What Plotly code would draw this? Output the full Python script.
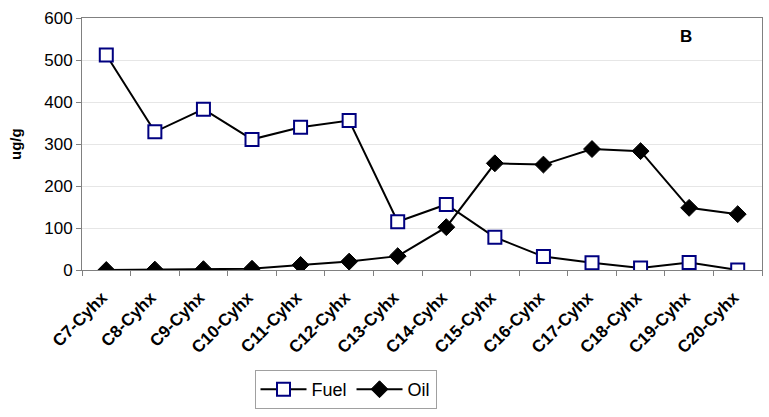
import plotly.graph_objects as go

categories = ["C7-Cyhx", "C8-Cyhx", "C9-Cyhx", "C10-Cyhx", "C11-Cyhx", "C12-Cyhx", "C13-Cyhx",
              "C14-Cyhx", "C15-Cyhx", "C16-Cyhx", "C17-Cyhx", "C18-Cyhx", "C19-Cyhx", "C20-Cyhx"]
fuel = [512, 329, 383, 311, 340, 356, 115, 156, 78, 32, 17, 5, 18, 0]
oil = [0, 1, 2, 3, 12, 20, 33, 102, 254, 251, 288, 283, 148, 133]
y_ticks = [0, 100, 200, 300, 400, 500, 600]

fig = go.Figure()
fig.add_trace(go.Scatter(
    x=categories, y=fuel, name="Fuel", mode="lines+markers",
    line=dict(color="black", width=2),
    marker=dict(symbol="square", size=13, color="white", line=dict(color="#000080", width=2)),
))
fig.add_trace(go.Scatter(
    x=categories, y=oil, name="Oil", mode="lines+markers",
    line=dict(color="black", width=2),
    marker=dict(symbol="diamond", size=13, color="black", line=dict(color="black", width=1)),
))

fig.update_layout(
    width=769, height=417,
    margin=dict(l=82, r=7, t=18, b=147, autoexpand=False),
    paper_bgcolor="white", plot_bgcolor="white",
    font=dict(family="Arial, Liberation Sans, sans-serif", color="black"),
    showlegend=True,
    legend=dict(
        orientation="h", x=0.3875, xanchor="center", y=-0.397, yanchor="top",
        bordercolor="#a0a0a0", borderwidth=1, font=dict(size=18),
        itemwidth=46, tracegroupgap=0,
    ),
    xaxis=dict(
        type="category", range=[-0.5, len(categories) - 0.5],
        tickangle=-45, tickson="boundaries",
        ticks="outside", ticklen=5, tickcolor="#808080",
        showline=True, linecolor="#808080", linewidth=1, mirror=True,
        showgrid=False, automargin=False,
        tickfont=dict(size=17, weight="bold"),
        ticklabelstandoff=10, ticklabelshift=-4,
    ),
    yaxis=dict(
        range=[0, 600], tickvals=y_ticks, ticks="outside", ticklen=5, tickcolor="#808080",
        showline=True, linecolor="#808080", linewidth=1, mirror=True,
        showgrid=True, gridcolor="#e6e6e6", gridwidth=1, zeroline=False,
        tickfont=dict(size=17), automargin=False,
    ),
    annotations=[
        dict(text="<b>B</b>", x=0.888, xref="paper", y=557, yref="y", xanchor="center",
             showarrow=False, font=dict(size=17)),
        dict(text="<b>ug/g</b>", x=-0.0985, xref="paper", y=0.5, yref="paper",
             xanchor="center", yanchor="middle",
             textangle=-90, showarrow=False, font=dict(size=15)),
    ],
)

fig.write_html(
    "out.html",
    config={"displayModeBar": False},
    post_script="document.body.style.margin='0';document.body.style.padding='0';document.body.style.overflow='hidden';",
)
